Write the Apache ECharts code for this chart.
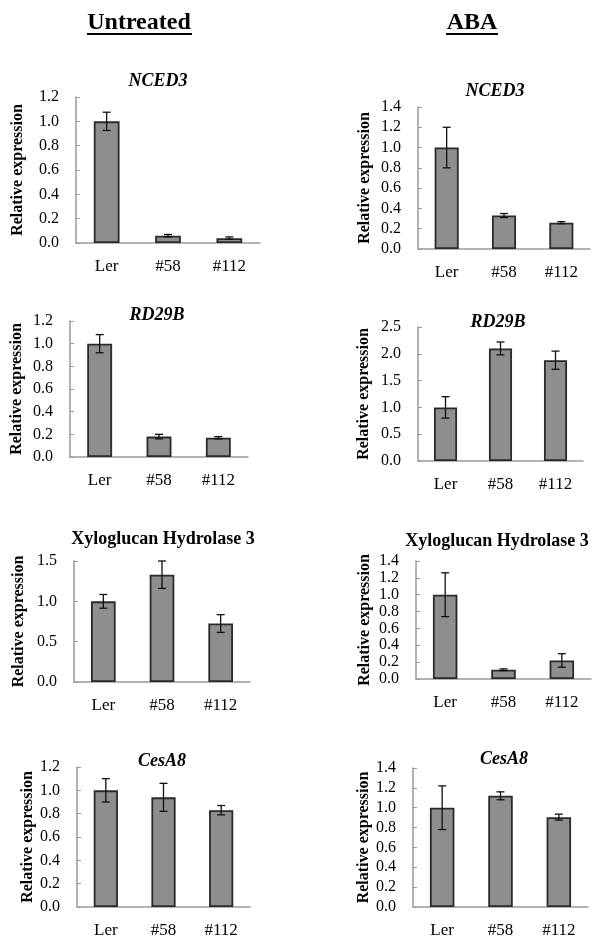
<!DOCTYPE html>
<html>
<head>
<meta charset="utf-8">
<script src="https://cdn.jsdelivr.net/npm/echarts@6/dist/echarts.min.js"></script>
<style>html,body{margin:0;padding:0;background:#fff}#c{width:593px;height:939px}</style>
</head>
<body>
<div id="c"></div>
<script>
const categories = ['Ler', '#58', '#112'];
const panelTitles = ['NCED3', 'NCED3', 'RD29B', 'RD29B', 'Xyloglucan Hydrolase 3', 'Xyloglucan Hydrolase 3', 'CesA8', 'CesA8'];
const italicTitle = [true, true, true, true, false, false, true, true];
const headers = ['Untreated', 'ABA'];

// values and errors per panel (left column: Untreated, right column: ABA)
const nced3Untreated = [1.0, 0.06, 0.04];
const nced3UntreatedErr = [0.075, 0.01, 0.01];
const nced3ABA = [1.0, 0.33, 0.26];
const nced3ABAErr = [0.2, 0.02, 0.01];
const rd29bUntreated = [1.0, 0.18, 0.17];
const rd29bUntreatedErr = [0.08, 0.02, 0.01];
const rd29bABA = [1.0, 2.1, 1.88];
const rd29bABAErr = [0.2, 0.12, 0.17];
const xyhUntreated = [1.0, 1.33, 0.725];
const xyhUntreatedErr = [0.085, 0.17, 0.11];
const xyhABA = [1.0, 0.11, 0.22];
const xyhABAErr = [0.26, 0.01, 0.08];
const cesa8Untreated = [1.0, 0.94, 0.83];
const cesa8UntreatedErr = [0.1, 0.12, 0.04];
const cesa8ABA = [1.0, 1.12, 0.905];
const cesa8ABAErr = [0.22, 0.04, 0.03];

const yMax = [1.2, 1.4, 1.2, 2.5, 1.5, 1.4, 1.2, 1.4];
const yInterval = [0.2, 0.2, 0.2, 0.5, 0.5, 0.2, 0.2, 0.2];

const values = [nced3Untreated, nced3ABA, rd29bUntreated, rd29bABA, xyhUntreated, xyhABA, cesa8Untreated, cesa8ABA];
const errors = [nced3UntreatedErr, nced3ABAErr, rd29bUntreatedErr, rd29bABAErr, xyhUntreatedErr, xyhABAErr, cesa8UntreatedErr, cesa8ABAErr];

// layout
const grids = [
  {left: 76, top: 97, width: 184, height: 146},
  {left: 418, top: 107, width: 172, height: 142},
  {left: 70, top: 321, width: 178, height: 136},
  {left: 418, top: 327, width: 165, height: 134},
  {left: 74, top: 561, width: 176, height: 121},
  {left: 416, top: 561, width: 175, height: 118},
  {left: 77, top: 767, width: 173, height: 141},
  {left: 413, top: 768, width: 175, height: 140}
];
const titlePos = [[158, 82], [495, 92], [157, 316], [498, 323], [163, 540], [497, 542], [162, 762], [504, 760]];
const nameGaps = [50, 45, 45, 46, 47, 43, 41, 41];
const headerPos = [[139, 23], [472, 23]];

const serif = '"Liberation Serif", "DejaVu Serif", serif';
const axisGray = '#9a9a9a';

const option = {
  animation: false,
  backgroundColor: '#fff',
  title: [],
  grid: [],
  xAxis: [],
  yAxis: [],
  series: [],
  graphic: []
};

headers.forEach((h, i) => {
  option.graphic.push({
    type: 'text', x: headerPos[i][0], y: headerPos[i][1],
    style: {text: h, font: 'bold 24px ' + serif, fill: '#000', textAlign: 'center', textVerticalAlign: 'middle'}
  });
});
// underlines
option.graphic.push({type: 'line', shape: {x1: 87, y1: 34, x2: 192, y2: 34}, style: {stroke: '#000', lineWidth: 2}});
option.graphic.push({type: 'line', shape: {x1: 446, y1: 34, x2: 498, y2: 34}, style: {stroke: '#000', lineWidth: 2}});

for (let i = 0; i < 8; i++) {
  option.title.push({
    text: panelTitles[i], left: titlePos[i][0], top: titlePos[i][1] - 10, textAlign: 'center',
    padding: 0,
    textStyle: {fontFamily: serif, fontWeight: 'bold', fontStyle: italicTitle[i] ? 'italic' : 'normal', fontSize: 18, color: '#000'}
  });
  option.grid.push(Object.assign({containLabel: false}, grids[i]));
  option.xAxis.push({
    type: 'category', gridIndex: i, data: categories,
    axisLine: {lineStyle: {color: axisGray, width: 1.5}},
    axisTick: {inside: true, length: 4, lineStyle: {color: axisGray}},
    axisLabel: {color: '#000', fontFamily: serif, fontSize: 17, margin: 15}
  });
  option.yAxis.push({
    type: 'value', gridIndex: i, min: 0, max: yMax[i], interval: yInterval[i],
    name: 'Relative expression', nameLocation: 'middle', nameGap: nameGaps[i], nameRotate: 90,
    nameTextStyle: {fontFamily: serif, fontWeight: 'bold', fontSize: 16, color: '#000'},
    axisLine: {show: true, lineStyle: {color: axisGray, width: 1.5}},
    axisTick: {show: true, inside: true, length: 4, lineStyle: {color: axisGray}},
    splitLine: {show: false},
    axisLabel: {color: '#000', fontFamily: serif, fontSize: 16, margin: 17, formatter: v => v.toFixed(1)}
  });
  option.series.push({
    type: 'bar', xAxisIndex: i, yAxisIndex: i, data: values[i], barWidth: '42%',
    itemStyle: {color: '#8e8e8e', borderColor: '#2a2a2a', borderWidth: 1.8}
  });
  const errData = values[i].map((v, k) => [k, v, errors[i][k]]);
  option.series.push({
    type: 'custom', xAxisIndex: i, yAxisIndex: i, data: errData, z: 10,
    renderItem: function (params, api) {
      const x = api.value(0), v = api.value(1), e = api.value(2);
      const top = api.coord([x, v + e]);
      const bot = api.coord([x, v - e]);
      const cap = 4;
      const st = {stroke: '#111', lineWidth: 1.3};
      return {
        type: 'group',
        children: [
          {type: 'line', shape: {x1: top[0], y1: top[1], x2: bot[0], y2: bot[1]}, style: st},
          {type: 'line', shape: {x1: top[0] - cap, y1: top[1], x2: top[0] + cap, y2: top[1]}, style: st},
          {type: 'line', shape: {x1: bot[0] - cap, y1: bot[1], x2: bot[0] + cap, y2: bot[1]}, style: st}
        ]
      };
    }
  });
}

const chart = echarts.init(document.getElementById('c'), null, {renderer: 'canvas'});
chart.setOption(option);
</script>
</body>
</html>
